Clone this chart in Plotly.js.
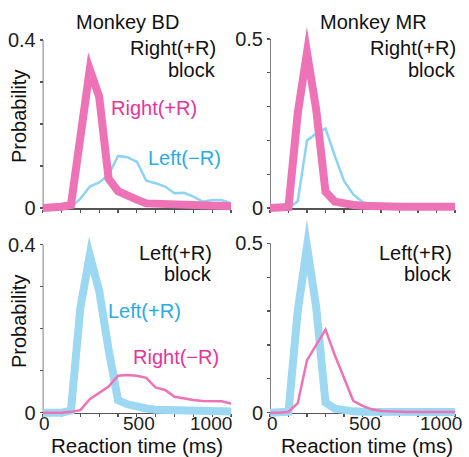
<!DOCTYPE html>
<html>
<head>
<meta charset="utf-8">
<script src="https://cdn.plot.ly/plotly-3.0.1.min.js"></script>
<style>
html,body{margin:0;padding:0;background:#fff;}
#chart{width:469px;height:457px;}
path.js-line{stroke-miterlimit:40 !important;}
</style>
</head>
<body>
<div id="chart"></div>
<script>
// Reaction time bins (ms)
const reactionTimeMs = [0,50,100,150,200,250,300,350,400,450,500,550,600,650,700,750,800,850,900,950,1000];

// Monkey BD, Right(+R) block
const bdRightBlock_RightPlusR = [0,0,0.003,0.007,0.18,0.33,0.265,0.07,0.04,0.028,0.02,0.011,0.01,0.008,0.006,0.005,0.005,0.005,0.004,0.004,0.004];
const bdRightBlock_LeftMinusR = [0,0,0,0.002,0.022,0.051,0.061,0.079,0.124,0.121,0.110,0.065,0.059,0.051,0.035,0.036,0.027,0.015,0.019,0.019,0.011];
// Monkey MR, Right(+R) block
const mrRightBlock_RightPlusR = [0,0,0.003,0.28,0.46,0.29,0.048,0.019,0.012,0.009,0.007,0.005,0.005,0.004,0.004,0.004,0.004,0.004,0.004,0.004,0.004];
const mrRightBlock_LeftMinusR = [0,0,0,0.02,0.2,0.22,0.235,0.155,0.08,0.04,0.018,0.01,0.006,0.004,0.003,0.002,0.002,0.002,0.001,0.001,0.001];
// Monkey BD, Left(+R) block
const bdLeftBlock_LeftPlusR = [0,0,0,0.005,0.25,0.375,0.29,0.15,0.03,0.02,0.013,0.01,0.007,0.006,0.005,0.004,0.004,0.004,0.003,0.003,0.003];
const bdLeftBlock_RightMinusR = [0,0,0,0.002,0.006,0.032,0.046,0.062,0.088,0.09,0.088,0.083,0.06,0.054,0.038,0.034,0.03,0.028,0.027,0.027,0.022];
// Monkey MR, Left(+R) block
const mrLeftBlock_LeftPlusR = [0,0,0.003,0.3,0.49,0.31,0.03,0.012,0.006,0.004,0.003,0.003,0.002,0.002,0.002,0.002,0.002,0.002,0.002,0.002,0.002];
const mrLeftBlock_RightMinusR = [0,0,0.003,0.028,0.155,0.2,0.245,0.17,0.1,0.035,0.02,0.01,0.005,0.003,0.003,0.002,0.002,0.002,0.002,0.002,0.002];

// Tick marks and labels
const xTickVals = [0,100,200,300,400,500,600,700,800,900,1000];
const xLabelVals = [0,500,1000];
const xLabelText = ['0','500','1000'];
const yTickValsBD = [0,0.1,0.2,0.3,0.4];
const yTickTextBD = ['0','','','','0.4'];
const yTickValsMR = [0,0.1,0.2,0.3,0.4,0.5];
const yTickTextMR = ['0','','','','','0.5'];

const W = 469, H = 457;
const PINK = '#EE72B6', PINK_TXT = '#E8349A';
const BLUE = '#9DD8F3', BLUE_THIN = '#8CD3F4', BLUE_TXT = '#2AABE6';
const FONT = 'Liberation Sans, Arial, Helvetica, sans-serif';
const AX = '#555';

// panel geometry (pixels)
const panels = [
  {x0:42.7, x1:231, zero:208,   ppu:420, top:15,  yv:yTickValsBD, yt:yTickTextBD, ymax:0.4, xlabels:false},
  {x0:270,  x1:455, zero:208,   ppu:338, top:12,  yv:yTickValsMR, yt:yTickTextMR, ymax:0.5, xlabels:false},
  {x0:42.7, x1:231, zero:412.7, ppu:420, top:220, yv:yTickValsBD, yt:yTickTextBD, ymax:0.4, xlabels:true},
  {x0:270,  x1:455, zero:412.7, ppu:339, top:205, yv:yTickValsMR, yt:yTickTextMR, ymax:0.5, xlabels:true}
];
const yBottomVal = -0.015;

const layout = {
  width: W, height: H,
  margin: {l:0, r:0, t:0, b:0},
  paper_bgcolor: '#fff', plot_bgcolor: 'rgba(0,0,0,0)',
  showlegend: false,
  font: {family: FONT, size: 20, color: '#111'},
  shapes: [], annotations: []
};

function ann(text, px, py, xanchor, color, extra, size) {
  layout.annotations.push(Object.assign({
    text: text, xref: 'paper', yref: 'paper', x: px / W, y: 1 - py / H,
    xanchor: xanchor, yanchor: 'middle', showarrow: false, borderpad: 0,
    font: {family: FONT, size: size || 20, color: color || '#111'}
  }, extra || {}));
}

panels.forEach((p, i) => {
  const n = i === 0 ? '' : String(i + 1);
  const bottomPx = p.zero - yBottomVal * p.ppu;
  const topVal = (p.zero - p.top) / p.ppu;
  layout['xaxis' + n] = {
    domain: [p.x0 / W, p.x1 / W], range: [0, 1000],
    anchor: 'free', position: 1 - p.zero / H,
    showline: true, linecolor: AX, linewidth: 1.5,
    ticks: 'outside', ticklen: 3, tickwidth: 1.2, tickcolor: AX,
    tickvals: xTickVals, ticktext: xTickVals.map(() => ''),
    showgrid: false, zeroline: false, fixedrange: true, layer: 'below traces'
  };
  layout['yaxis' + n] = {
    domain: [1 - bottomPx / H, 1 - p.top / H], range: [yBottomVal, topVal],
    anchor: 'free', position: p.x0 / W,
    showline: false,
    ticks: 'outside', ticklen: 3, tickwidth: 1.2, tickcolor: AX,
    tickvals: p.yv, ticktext: p.yt,
    tickfont: {size: 20, color: '#222', family: FONT},
    showgrid: false, zeroline: false, fixedrange: true
  };
  layout.shapes.push({type:'line', xref:'x' + n, yref:'y' + n, x0:0, x1:0, y0:0, y1:p.ymax,
    line:{color:AX, width:1.5}, layer:'below'});
  if (p.xlabels) {
    xLabelVals.forEach((v, j) => {
      const last = j === xLabelVals.length - 1;
      layout.annotations.push({
        text: xLabelText[j], xref: 'x' + n, yref: 'paper', x: v, y: 1 - 423 / H,
        xanchor: last ? 'right' : 'center', yanchor: 'middle', showarrow: false, borderpad: 0,
        xshift: last ? (i === 3 ? 8 : 2) : 2,
        font: {family: FONT, size: 19, color: '#222'}
      });
    });
  }
});

const traces = [];
function addLine(ys, axN, color, width) {
  traces.push({x: reactionTimeMs, y: ys, type: 'scatter', mode: 'lines',
    xaxis: 'x' + axN, yaxis: 'y' + axN, line: {color: color, width: width}, hoverinfo: 'skip'});
}
// blue first, pink on top
addLine(bdRightBlock_LeftMinusR, '', BLUE_THIN, 2.5);
addLine(bdRightBlock_RightPlusR, '', PINK, 8);
addLine(mrRightBlock_LeftMinusR, '2', BLUE_THIN, 2.5);
addLine(mrRightBlock_RightPlusR, '2', PINK, 8);
addLine(bdLeftBlock_LeftPlusR, '3', BLUE, 8);
addLine(bdLeftBlock_RightMinusR, '3', PINK, 2.5);
addLine(mrLeftBlock_LeftPlusR, '4', BLUE, 8);
addLine(mrLeftBlock_RightMinusR, '4', PINK, 2.5);

ann('Monkey BD', 127, 22, 'center');
ann('Monkey MR', 373, 22, 'center');
ann('Right(+R)', 217, 48, 'right');
ann('block', 217, 70, 'right');
ann('Right(+R)', 457, 48, 'right');
ann('block', 457, 70, 'right');
ann('Right(+R)', 110, 108, 'left', PINK_TXT);
ann('Left(\u2212R)', 147, 158, 'left', BLUE_TXT);
ann('Left(+R)', 213, 253, 'right');
ann('block', 213, 274, 'right');
ann('Left(+R)', 453, 253, 'right');
ann('block', 453, 274, 'right');
ann('Left(+R)', 107, 311, 'left', BLUE_TXT);
ann('Right(\u2212R)', 132, 357, 'left', PINK_TXT);
ann('Probability', 19, 117, 'center', null, {textangle: -90});
ann('Probability', 19, 322, 'center', null, {textangle: -90});
ann('Reaction time (ms)', 137, 445, 'center', null, null, 20.5);
ann('Reaction time (ms)', 367, 445, 'center', null, null, 20.5);

Plotly.newPlot('chart', traces, layout, {staticPlot: true, displayModeBar: false});
</script>
</body>
</html>
